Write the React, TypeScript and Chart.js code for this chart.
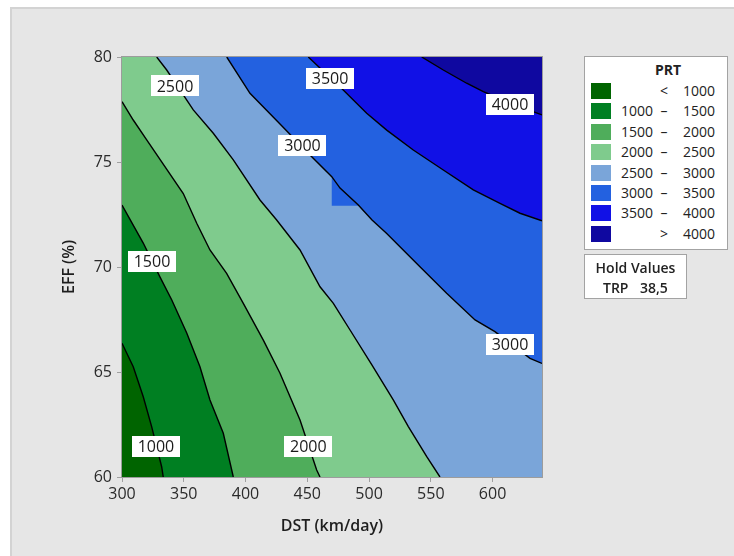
import React, { useEffect, useRef } from "react";
import { Chart, registerables } from "chart.js";

Chart.register(...registerables);

// ---- axes ----
const X_MIN = 300;
const X_MAX = 640;
const Y_MIN = 60;
const Y_MAX = 80;
const X_STEP = 50;
const Y_STEP = 5;
const X_TITLE = "DST (km/day)";
const Y_TITLE = "EFF (%)";

// ---- contour levels and band colours (lowest band first) ----
const levels = [1000, 1500, 2000, 2500, 3000, 3500, 4000];
const bandColors = ["#006400", "#007f22", "#4fad5b", "#7fcb8d", "#7aa5d9", "#2361e0", "#1111e6", "#0f08a0"];
const legendLeft = ["", "1000", "1500", "2000", "2500", "3000", "3500", ""];
const legendMid = ["<", "–", "–", "–", "–", "–", "–", ">"];
const legendRight = ["1000", "1500", "2000", "2500", "3000", "3500", "4000", "4000"];

// ---- contour lines [DST, EFF] ----
const c1000 = [[300, 66.37], [309.1, 65.25], [317.2, 63.82], [324.0, 62.4], [332.1, 60.49], [333.4, 60]];
const c1500 = [[300, 72.95], [317.2, 71.14], [330.8, 69.52], [340.3, 68.43], [352.4, 66.86], [363.1, 65.25], [371.2, 63.67], [382.0, 62.08], [390.1, 60]];
const c2000 = [[300, 77.87], [309.1, 77.0], [320.0, 76.05], [349.6, 73.5], [360.5, 72.08], [371.2, 70.81], [384.7, 69.7], [398.2, 68.27], [414.4, 66.52], [427.9, 64.94], [444.1, 62.71], [457.6, 60.33], [460.3, 60]];
const c2500 = [[328.1, 80], [336.2, 79.38], [357.7, 77.48], [373.9, 76.37], [390.1, 75.1], [411.7, 73.19], [425.2, 72.24], [444.1, 70.81], [460.3, 69.06], [471.1, 68.27], [484.6, 67.0], [502.4, 65.33], [519.6, 63.67], [531.8, 62.4], [546.7, 60.97], [557.4, 60]];
const c3000 = [[384.8, 80], [403.6, 78.27], [427.9, 76.81], [453.6, 75.25], [469.8, 74.3], [476.5, 73.76], [491.3, 72.95], [502.4, 72.24], [514.3, 71.6], [541.2, 70.01], [562.8, 68.75], [585.8, 67.48], [601.9, 66.92], [630.3, 65.65], [640, 65.41]];
const c3500 = [[450.8, 80], [479.1, 78.43], [498.1, 77.32], [514.3, 76.52], [535.8, 75.57], [560.1, 74.62], [584.4, 73.67], [606.0, 73.03], [622.2, 72.56], [640, 72.2]];
const c4000 = [[542.6, 80], [560.1, 79.38], [579.0, 78.75], [592.5, 78.35], [614.1, 77.81], [640, 77.24]];
// small rendering artefact of the 3000 band (square notch)
const notch3000 = [[469.8, 72.92], [491.3, 72.92]];

// ---- contour labels ----
const labelTexts = ["2500", "3500", "4000", "3000", "1500", "1000", "2000", "3000"];
const labelX = [342.9, 468.4, 614.1, 446.1, 324.3, 327.5, 450.8, 614.1];
const labelY = [78.62, 78.99, 77.76, 75.79, 70.27, 61.46, 61.46, 66.29];

// ---- hold values ----
const holdName = "TRP";
const holdValue = "38,5";

const FONT = '"Open Sans", "Noto Sans", sans-serif';

const contours = [c1000, c1500, c2000, c2500, c3000, c3500, c4000];

function fillPath(points: number[][], level: number) {
  let pts = points;
  if (level === 3000) {
    pts = [
      ...points.filter((p) => p[0] <= notch3000[0][0]),
      ...notch3000,
      ...points.filter((p) => p[0] > notch3000[1][0]),
    ];
  }
  const last = pts[pts.length - 1];
  const out = pts.map(([x, y]) => ({ x, y }));
  if (last[1] === Y_MIN && last[0] < X_MAX) out.push({ x: X_MAX, y: Y_MIN });
  return out;
}

const labelPlugin = {
  id: "contourLabels",
  afterDatasetsDraw(chart: any) {
    const { ctx, scales, chartArea } = chart;
    const xs = scales.x;
    const ys = scales.y;
    ctx.save();
    ctx.font = `16px ${FONT}`;
    ctx.textAlign = "center";
    ctx.textBaseline = "middle";
    labelTexts.forEach((t, i) => {
      const px = xs.getPixelForValue(labelX[i]);
      const py = ys.getPixelForValue(labelY[i]);
      const w = 48;
      const h = 21;
      ctx.fillStyle = "#ffffff";
      ctx.fillRect(Math.round(px - w / 2), Math.round(py - h / 2), w, h);
      ctx.fillStyle = "#1a1a1a";
      ctx.fillText(t, px, py + 1);
    });
    ctx.strokeStyle = "#9c9c9c";
    ctx.lineWidth = 1;
    ctx.strokeRect(
      chartArea.left - 0.5,
      chartArea.top - 0.5,
      chartArea.right - chartArea.left + 1,
      chartArea.bottom - chartArea.top + 1
    );
    ctx.restore();
  },
};

export default function App() {
  const ref = useRef<HTMLCanvasElement>(null);

  useEffect(() => {
    if (!ref.current) return;
    const datasets: any[] = [];
    // contour lines on top
    contours.forEach((c, i) => {
      datasets.push({
        label: `c${levels[i]}`,
        data: c.map(([x, y]) => ({ x, y })),
        borderColor: "#000000",
        borderWidth: 1.4,
        pointRadius: 0,
        fill: false,
        tension: 0,
        order: 0,
      });
    });
    // filled super-level regions, higher levels on top
    contours.forEach((c, i) => {
      datasets.push({
        label: `f${levels[i]}`,
        data: fillPath(c, levels[i]),
        borderColor: "rgba(0,0,0,0)",
        borderWidth: 0,
        backgroundColor: bandColors[i + 1],
        pointRadius: 0,
        fill: "end",
        tension: 0,
        order: 8 - i,
      });
    });
    // base band (< lowest level)
    datasets.push({
      label: "base",
      data: [
        { x: X_MIN, y: Y_MIN },
        { x: X_MAX, y: Y_MIN },
      ],
      borderColor: "rgba(0,0,0,0)",
      borderWidth: 0,
      backgroundColor: bandColors[0],
      pointRadius: 0,
      fill: "end",
      order: 9,
    });

    const chart = new Chart(ref.current, {
      type: "line",
      data: { datasets },
      options: {
        animation: false,
        responsive: false,
        events: [],
        layout: { padding: { left: 0, top: 57, right: 192, bottom: 0 } },
        plugins: { legend: { display: false }, tooltip: { enabled: false } },
        scales: {
          x: {
            type: "linear",
            min: X_MIN,
            max: X_MAX,
            afterFit: (s: any) => {
              s.height = 79;
            },
            ticks: {
              stepSize: X_STEP,
              includeBounds: false,
              color: "#2b2b2b",
              font: { family: FONT, size: 16 },
              padding: 3,
            },
            grid: { drawOnChartArea: false, drawTicks: true, tickLength: 5, color: "#a0a0a0" },
            border: { display: false },
            title: {
              display: true,
              text: X_TITLE,
              color: "#1e1e1e",
              font: { family: FONT, size: 16, weight: "600" },
              padding: { top: 0, bottom: 20 },
            },
          },
          y: {
            type: "linear",
            min: Y_MIN,
            max: Y_MAX,
            afterFit: (s: any) => {
              s.width = 122;
            },
            ticks: {
              stepSize: Y_STEP,
              color: "#2b2b2b",
              font: { family: FONT, size: 16 },
              padding: 5,
            },
            grid: { drawOnChartArea: false, drawTicks: true, tickLength: 5, color: "#a0a0a0" },
            border: { display: false },
            title: {
              display: true,
              text: Y_TITLE,
              color: "#1e1e1e",
              font: { family: FONT, size: 16, weight: "600" },
              padding: { top: 60, bottom: 0 },
            },
          },
        },
      },
      plugins: [labelPlugin],
    } as any);
    return () => chart.destroy();
  }, []);

  const rowTop = (i: number) => 83 + i * 20.4;

  return (
    <div
      style={{
        position: "fixed",
        left: 0,
        top: 0,
        width: 734,
        height: 556,
        background: "#ffffff",
        overflow: "hidden",
        fontFamily: FONT,
      }}
    >
      <div
        style={{
          position: "absolute",
          left: 10,
          top: 7,
          width: 740,
          height: 560,
          background: "#e6e6e6",
          borderLeft: "2px solid #d3d3d3",
          borderTop: "2px solid #d3d3d3",
        }}
      />
      <canvas
        ref={ref}
        width={734}
        height={556}
        style={{ position: "absolute", left: 0, top: 0, width: 734, height: 556 }}
      />
      {/* colour legend */}
      <div
        style={{
          position: "absolute",
          left: 584,
          top: 56,
          width: 144,
          height: 194,
          boxSizing: "border-box",
          background: "#ffffff",
          border: "1px solid #a3a3a3",
        }}
      />
      <div
        style={{
          position: "absolute",
          left: 640,
          top: 61,
          width: 56,
          textAlign: "center",
          fontSize: 14,
          fontWeight: 700,
          lineHeight: "18px",
          color: "#222",
        }}
      >
        PRT
      </div>
      {bandColors.map((c, i) => (
        <React.Fragment key={i}>
          <div
            style={{
              position: "absolute",
              left: 591,
              top: rowTop(i),
              width: 20,
              height: 16,
              background: c,
            }}
          />
          <div
            style={{
              position: "absolute",
              left: 608,
              top: rowTop(i) - 1,
              width: 45,
              textAlign: "right",
              fontSize: 14,
              lineHeight: "18px",
              color: "#222",
            }}
          >
            {legendLeft[i]}
          </div>
          <div
            style={{
              position: "absolute",
              left: 656,
              top: rowTop(i) - 1,
              width: 16,
              textAlign: "center",
              fontSize: 14,
              lineHeight: "18px",
              color: "#222",
            }}
          >
            {legendMid[i]}
          </div>
          <div
            style={{
              position: "absolute",
              left: 672,
              top: rowTop(i) - 1,
              width: 43,
              textAlign: "right",
              fontSize: 14,
              lineHeight: "18px",
              color: "#222",
            }}
          >
            {legendRight[i]}
          </div>
        </React.Fragment>
      ))}
      {/* hold values */}
      <div
        style={{
          position: "absolute",
          left: 584,
          top: 254,
          width: 103,
          height: 45,
          boxSizing: "border-box",
          background: "#ffffff",
          border: "1px solid #a3a3a3",
          color: "#222",
          fontSize: 14,
          fontWeight: 600,
        }}
      >
        <div style={{ position: "absolute", left: 0, top: 4, width: 101, textAlign: "center", lineHeight: "18px" }}>
          Hold Values
        </div>
        <div style={{ position: "absolute", left: 18, top: 24, lineHeight: "18px" }}>{holdName}</div>
        <div style={{ position: "absolute", left: 55, top: 24, lineHeight: "18px" }}>{holdValue}</div>
      </div>
    </div>
  );
}
